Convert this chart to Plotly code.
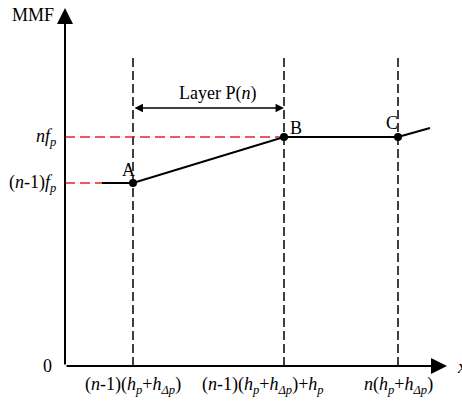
import plotly.graph_objects as go

# abstract coordinates (axis origin at 0,0)
x_A, x_B, x_C = 68, 219, 333
y_low, y_high = 183, 229
curve_x = [37, x_A, x_B, x_C, 365]
curve_y = [y_low, y_low, y_high, y_high, 238]
point_x = [x_A, x_B, x_C]
point_y = [y_low, y_high, y_high]
point_labels = ["A", "B", "C"]
vline_top = 311
layer_y = 258
x_max, y_max = 382, 358

FONT = "Liberation Serif, Times New Roman, serif"
FS = 18

fig = go.Figure()

# dashed verticals
for xv in point_x:
    fig.add_trace(go.Scatter(x=[xv, xv], y=[0, vline_top], mode="lines",
                             line=dict(color="black", width=1.5, dash="9px,4px"),
                             hoverinfo="skip", showlegend=False))
# red dashed horizontals
fig.add_trace(go.Scatter(x=[0, x_B], y=[y_high, y_high], mode="lines",
                         line=dict(color="#e8202a", width=1.5, dash="10px,5px"),
                         hoverinfo="skip", showlegend=False))
fig.add_trace(go.Scatter(x=[0, curve_x[0]], y=[y_low, y_low], mode="lines",
                         line=dict(color="#e8202a", width=1.5, dash="10px,5px"),
                         hoverinfo="skip", showlegend=False))
# MMF curve
fig.add_trace(go.Scatter(x=curve_x, y=curve_y, mode="lines",
                         line=dict(color="black", width=2.2),
                         hoverinfo="skip", showlegend=False))
fig.add_trace(go.Scatter(x=point_x, y=point_y, mode="markers",
                         marker=dict(color="black", size=8),
                         hoverinfo="skip", showlegend=False))

ann = []
# axes arrows
ann.append(dict(x=0, y=y_max, ax=0, ay=0, xref="x", yref="y", axref="x", ayref="y",
                showarrow=True, arrowhead=2, arrowsize=1.6, arrowwidth=2, arrowcolor="black", text=""))
ann.append(dict(x=x_max, y=0, ax=0, ay=0, xref="x", yref="y", axref="x", ayref="y",
                showarrow=True, arrowhead=2, arrowsize=1.6, arrowwidth=2, arrowcolor="black", text=""))
# layer arrow
ann.append(dict(x=x_B, y=layer_y, ax=x_A, ay=layer_y, xref="x", yref="y", axref="x", ayref="y",
                showarrow=True, arrowhead=2, startarrowhead=2, arrowside="end+start",
                arrowsize=1.3, startarrowsize=1.3, arrowwidth=1.3, arrowcolor="black", text=""))
ann.append(dict(x=(x_A + x_B) / 2, y=layer_y, xshift=9, yshift=15, xref="x", yref="y", showarrow=False,
                text="Layer P(<i>n</i>)", font=dict(family=FONT, size=FS, color="black")))
# point labels
offs = [(-5, 13), (12, 9), (-6, 14)]
for lx, ly, t, (dx, dy) in zip(point_x, point_y, point_labels, offs):
    ann.append(dict(x=lx, y=ly, xshift=dx, yshift=dy, xref="x", yref="y", showarrow=False,
                    text=t, font=dict(family=FONT, size=FS, color="black")))
# y labels
ann.append(dict(x=0, y=y_high, xshift=-7, xanchor="right", xref="x", yref="y", showarrow=False,
                text="<i>nf<sub>p</sub></i>", font=dict(family=FONT, size=FS, color="black")))
ann.append(dict(x=0, y=y_low, xshift=-7, xanchor="right", xref="x", yref="y", showarrow=False,
                text="(<i>n</i>-1)<i>f<sub>p</sub></i>", font=dict(family=FONT, size=FS, color="black")))
ann.append(dict(x=0, y=0, xshift=-18, xref="x", yref="y", showarrow=False,
                text="0", font=dict(family=FONT, size=FS, color="black")))
ann.append(dict(x=0, y=y_max, xshift=-32, yshift=-7, xref="x", yref="y", showarrow=False,
                text="MMF", font=dict(family=FONT, size=FS, color="black")))
ann.append(dict(x=x_max, y=0, xshift=8, xanchor="left", xref="x", yref="y", showarrow=False,
                text="<i>x</i>", font=dict(family=FONT, size=FS + 1, color="black")))
# x labels
xl = [(x_A, 0, "(<i>n</i>-1)(<i>h<sub>p</sub></i>+<i>h<sub>Δp</sub></i>)"),
      (x_B, -21, "(<i>n</i>-1)(<i>h<sub>p</sub></i>+<i>h<sub>Δp</sub></i>)+<i>h<sub>p</sub></i>"),
      (x_C, 0, "<i>n</i>(<i>h<sub>p</sub></i>+<i>h<sub>Δp</sub></i>)")]
for xv, dx, t in xl:
    ann.append(dict(x=xv, y=0, xshift=dx, yshift=-19, xref="x", yref="y", showarrow=False,
                    text=t, font=dict(family=FONT, size=FS, color="black")))

fig.update_layout(
    width=462, height=402,
    margin=dict(l=65, r=15, t=8, b=36),
    plot_bgcolor="white", paper_bgcolor="white",
    xaxis=dict(range=[0, x_max], visible=False, fixedrange=True),
    yaxis=dict(range=[0, y_max], visible=False, fixedrange=True),
    annotations=ann,
)
fig.write_html("out.html", config={"displayModeBar": False},
               post_script="document.body.style.margin='0';")
